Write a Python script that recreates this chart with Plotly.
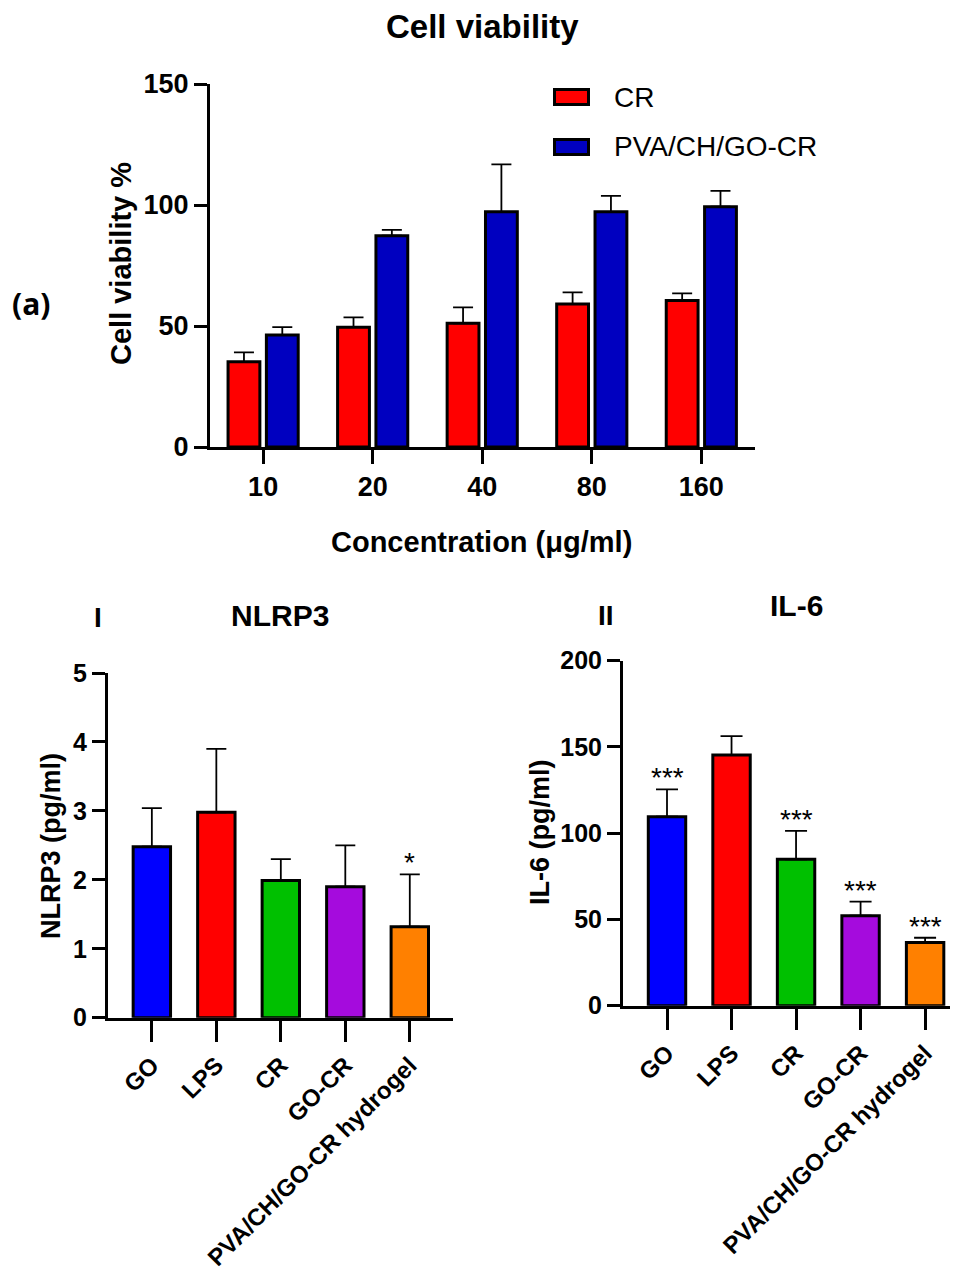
import plotly.graph_objects as go

# ---------------- data ----------------
concentrations = ["10", "20", "40", "80", "160"]
series_names = ["CR", "PVA/CH/GO-CR"]
cr_viability = [35.2, 49.5, 51.1, 59.1, 60.5]
cr_err = [3.9, 4.1, 6.6, 4.8, 3.0]
pva_viability = [46.3, 87.3, 97.2, 97.2, 99.3]
pva_err = [3.2, 2.4, 19.6, 6.6, 6.5]

groups = ["GO", "LPS", "CR", "GO-CR", "PVA/CH/GO-CR hydrogel"]
nlrp3 = [2.48, 2.98, 1.99, 1.90, 1.32]
nlrp3_err = [0.56, 0.92, 0.31, 0.60, 0.76]
nlrp3_sig = ["", "", "", "", "*"]
il6 = [109.6, 145.3, 84.9, 52.2, 36.7]
il6_err = [15.8, 11.0, 16.5, 8.1, 2.7]
il6_sig = ["***", "", "***", "***", "***"]

# ---------------- style ----------------
# page has an 8px body margin: the figure is drawn 8px smaller and all
# reference pixel positions are shifted by that offset
OFF = 8
W, H = 958 - OFF, 1276 - OFF
FONT = "Liberation Sans, Arial, sans-serif"
top_colors = ["#FF0000", "#0000C0"]
group_colors = ["#0000FF", "#FF0000", "#00C000", "#A50BDD", "#FF8000"]


def fx(p):
    return min(1.0, (p - OFF) / W)


def fy(p):
    return 1 - (p - OFF) / H


def err_style(arr, w):
    return dict(type="data", array=arr, arrayminus=[0] * len(arr), symmetric=False,
                color="black", thickness=1.8, width=w, visible=True)


fig = go.Figure()

# top grouped chart
for name, vals, errs, col in [(series_names[0], cr_viability, cr_err, top_colors[0]),
                              (series_names[1], pva_viability, pva_err, top_colors[1])]:
    fig.add_trace(go.Bar(x=concentrations, y=vals, name=name, marker=dict(color=col, line=dict(color="black", width=3)),
                         error_y=err_style(errs, 10), xaxis="x", yaxis="y", showlegend=False))

# NLRP3
fig.add_trace(go.Bar(x=groups, y=nlrp3, width=0.58,
                     marker=dict(color=group_colors, line=dict(color="black", width=3)),
                     error_y=err_style(nlrp3_err, 10), xaxis="x2", yaxis="y2", showlegend=False))
# IL-6
fig.add_trace(go.Bar(x=groups, y=il6, width=0.58,
                     marker=dict(color=group_colors, line=dict(color="black", width=3)),
                     error_y=err_style(il6_err, 11), xaxis="x3", yaxis="y3", showlegend=False))

axis_common = dict(showline=True, linecolor="black", linewidth=3, ticks="outside", tickcolor="black",
                   tickwidth=3, showgrid=False, zeroline=False, fixedrange=True, automargin=False)

bold_top = dict(family=FONT, size=27, color="black", weight="bold")
bold_bot = dict(family=FONT, size=25, color="black", weight="bold")
bold_cat = dict(family=FONT, size=24, color="black", weight="bold")

fig.update_layout(
    width=W, height=H, margin=dict(l=0, r=0, t=0, b=0, pad=0, autoexpand=False),
    paper_bgcolor="white", plot_bgcolor="white",
    barmode="group", bargap=0.30, bargroupgap=0.17,
    font=dict(family=FONT, color="black"),
    xaxis=dict(domain=[fx(210), fx(755)], range=[-0.485, 4.49], anchor="y", ticklen=14,
               tickfont=bold_top, type="category", **axis_common),
    yaxis=dict(domain=[fy(447), fy(84)], range=[0, 150], dtick=50, anchor="x", ticklen=13,
               tickfont=bold_top, **axis_common),
    xaxis2=dict(domain=[fx(108), fx(453)], range=[-0.68, 4.67], anchor="y2", ticklen=21,
                tickangle=-45, tickfont=bold_cat, type="category", **axis_common),
    yaxis2=dict(domain=[fy(1017.7), fy(673)], range=[0, 5], dtick=1, anchor="x2", ticklen=13,
                tickfont=bold_bot, **axis_common),
    xaxis3=dict(domain=[fx(623), 1.0], range=[-0.682, 4.51], anchor="y3", ticklen=21,
                tickangle=-45, tickfont=bold_cat, type="category", **axis_common),
    yaxis3=dict(domain=[fy(1005.7), fy(660.7)], range=[0, 200], dtick=50, anchor="x3", ticklen=13,
                tickfont=bold_bot, **axis_common),
)

ann = []


def text(x, y, t, size, bold=True, angle=0, family=FONT, xanchor="center", yanchor="middle"):
    ann.append(dict(x=fx(x), y=fy(y), xref="paper", yref="paper", text=t, showarrow=False,
                    textangle=angle, xanchor=xanchor, yanchor=yanchor,
                    font=dict(family=family, size=size, color="black", weight="bold" if bold else "normal")))


text(482, 26, "Cell viability", 33)
text(121, 264, "Cell viability %", 29, angle=-90)
text(481, 542, "Concentration (μg/ml)", 29)
text(31, 303, "<b>(a)</b>", 30, family="Open Sans, Lato, sans-serif")
text(98, 617, "I", 28)
text(280, 615, "NLRP3", 30)
text(51, 846, "NLRP3 (pg/ml)", 27, angle=-90)
text(606, 615, "II", 28)
text(796, 605, "IL-6", 30)
text(540, 833, "IL-6 (pg/ml)", 27, angle=-90)

# legend (manual)
legend_rows = [97, 147]
for name, col, yc in zip(series_names, top_colors, legend_rows):
    fig.add_shape(type="rect", xref="paper", yref="paper", x0=fx(554.5), x1=fx(588.5),
                  y0=fy(yc + 7.5), y1=fy(yc - 7.5), fillcolor=col, line=dict(color="black", width=3))
    text(612, yc, name, 28, bold=False, xanchor="left")

# significance marks
for g, v, e, s in zip(groups, nlrp3, nlrp3_err, nlrp3_sig):
    if s:
        ann.append(dict(x=g, y=v + e, xref="x2", yref="y2", text=s, showarrow=False, yanchor="bottom",
                        yshift=-6, font=dict(family=FONT, size=28, color="black")))
for g, v, e, s in zip(groups, il6, il6_err, il6_sig):
    if s:
        ann.append(dict(x=g, y=v + e, xref="x3", yref="y3", text=s, showarrow=False,
                        yanchor="bottom", yshift=-6, font=dict(family=FONT, size=28, color="black")))

fig.update_layout(annotations=ann)
fig.write_html("out.html")
